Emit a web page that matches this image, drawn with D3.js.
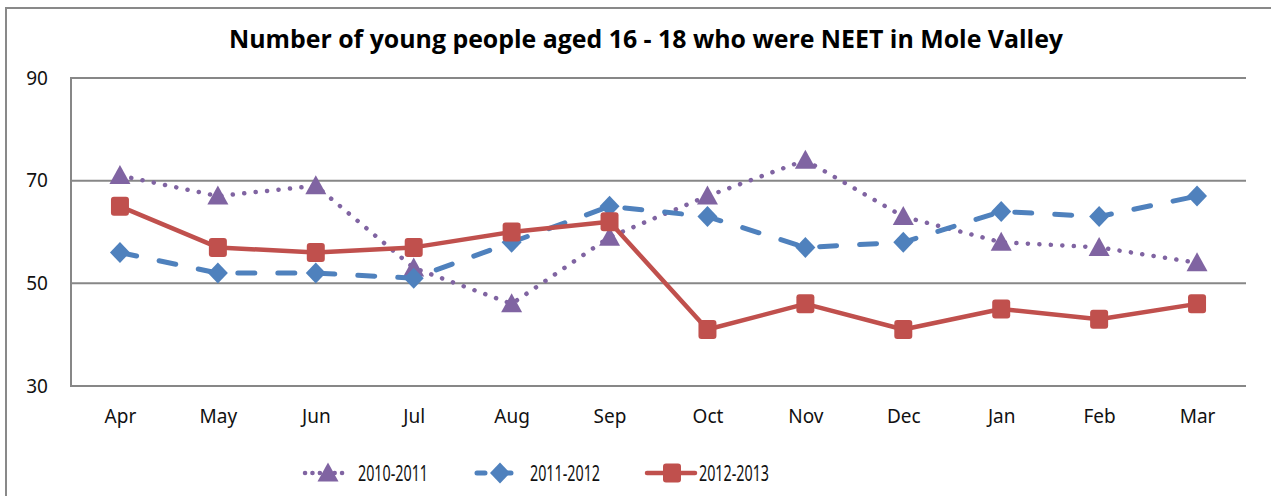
<!DOCTYPE html>
<html>
<head>
<meta charset="utf-8">
<script src="https://cdn.jsdelivr.net/npm/d3@7"></script>
<style>
  body { margin: 0; background: #fff; }
  svg { display: block; }
</style>
</head>
<body>
<div class="canvas"></div>
<script>
// data
const months = ['Apr', 'May', 'Jun', 'Jul', 'Aug', 'Sep', 'Oct', 'Nov', 'Dec', 'Jan', 'Feb', 'Mar'];
const y2010 = [71, 67, 69, 53, 46, 59, 67, 74, 63, 58, 57, 54];
const y2011 = [56, 52, 52, 51, 58, 65, 63, 57, 58, 64, 63, 67];
const y2012 = [65, 57, 56, 57, 60, 62, 41, 46, 41, 45, 43, 46];
const yTicks = [30, 50, 70, 90];
const title = 'Number of young people aged 16 - 18 who were NEET in Mole Valley';

const width = 1271, height = 496;
const plot = { left: 71, right: 1246, top: 78, bottom: 386 };

const series = [
  { name: '2010-2011', values: y2010, color: '#8064A2', marker: 'triangle', dash: '0.1 11.4', width: 4.5, legendX: 305 },
  { name: '2011-2012', values: y2011, color: '#4F81BD', marker: 'diamond', dash: '17 23', width: 5, legendX: 477 },
  { name: '2012-2013', values: y2012, color: '#C0504D', marker: 'square', dash: null, width: 4.5, legendX: 647 }
];

//Canvas
const svg = d3.select('.canvas')
  .append('svg')
  .attr('width', width)
  .attr('height', height);

// outer chart border
svg.append('rect')
  .attr('x', 6).attr('y', 8)
  .attr('width', width + 20).attr('height', height + 20)
  .attr('fill', '#fff')
  .attr('stroke', '#898989')
  .attr('stroke-width', 2);

// scales
const x = d3.scalePoint().domain(months).range([plot.left, plot.right]).padding(0.5);
const y = d3.scaleLinear().domain([30, 90]).range([plot.bottom, plot.top]);

// gridlines
svg.append('g')
  .selectAll('line')
  .data(yTicks)
  .join('line')
  .attr('x1', plot.left).attr('x2', plot.right)
  .attr('y1', (d) => y(d)).attr('y2', (d) => y(d))
  .attr('stroke', '#878787')
  .attr('stroke-width', 2);

// left axis line
svg.append('line')
  .attr('x1', plot.left).attr('x2', plot.left)
  .attr('y1', plot.top - 1).attr('y2', plot.bottom + 1)
  .attr('stroke', '#878787')
  .attr('stroke-width', 2);

// y axis labels
const yAxis = d3.axisLeft(y).tickValues(yTicks).tickSize(0).tickPadding(23);
svg.append('g')
  .attr('transform', `translate(${plot.left},0)`)
  .call(yAxis)
  .call((g) => g.select('.domain').remove())
  .selectAll('text')
  .attr('font-family', '"Noto Sans", sans-serif')
  .attr('font-size', 19)
  .attr('fill', '#111');

// x axis labels
const xAxis = d3.axisBottom(x).tickSize(0).tickPadding(24);
svg.append('g')
  .attr('transform', `translate(0,${plot.bottom})`)
  .call(xAxis)
  .call((g) => g.select('.domain').remove())
  .selectAll('text')
  .attr('font-family', '"Noto Sans", sans-serif')
  .attr('font-size', 19)
  .attr('fill', '#111');

// title
svg.append('text')
  .attr('x', 646)
  .attr('y', 48)
  .attr('text-anchor', 'middle')
  .attr('font-family', '"Open Sans", sans-serif')
  .attr('font-weight', 'bold')
  .attr('font-size', 25)
  .attr('textLength', 834)
  .attr('lengthAdjust', 'spacingAndGlyphs')
  .text(title);

// marker shapes
const markerPath = {
  triangle: 'M0,-10.5L10.5,8.5L-10.5,8.5Z',
  diamond: 'M0,-10.5L10,0L0,10.5L-10,0Z',
  square: 'M-9,-6.5Q-9,-9.5 -6,-9.5L6,-9.5Q9,-9.5 9,-6.5L9,6.5Q9,9.5 6,9.5L-6,9.5Q-9,9.5 -9,6.5Z'
};

const line = d3.line()
  .x((d, i) => x(months[i]))
  .y((d) => y(d));

// lines and markers
series.forEach((s) => {
  const g = svg.append('g');
  g.append('path')
    .attr('d', line(s.values))
    .attr('fill', 'none')
    .attr('stroke', s.color)
    .attr('stroke-width', s.width)
    .attr('stroke-linecap', 'round')
    .attr('stroke-linejoin', 'round')
    .attr('stroke-dasharray', s.dash);
  g.selectAll('path.mark')
    .data(s.values)
    .join('path')
    .attr('class', 'mark')
    .attr('d', markerPath[s.marker])
    .attr('transform', (d, i) => `translate(${x(months[i])},${y(d)})`)
    .attr('fill', s.color);
});

// legend
const legendY = 473;
const legend = svg.append('g');
series.forEach((s) => {
  const g = legend.append('g').attr('transform', `translate(${s.legendX},${legendY})`);
  g.append('line')
    .attr('x1', 0).attr('x2', s.marker === 'square' ? 48 : 42)
    .attr('y1', 0).attr('y2', 0)
    .attr('stroke', s.color)
    .attr('stroke-width', s.width)
    .attr('stroke-linecap', 'round')
    .attr('stroke-dasharray', s.dash ? (s.marker === 'triangle' ? '0.1 7.3' : '8 18') : null);
  g.append('path')
    .attr('d', markerPath[s.marker])
    .attr('transform', `translate(${s.marker === 'square' ? 25 : 23},0)`)
    .attr('fill', s.color);
  g.append('text')
    .attr('x', s.marker === 'square' ? 52 : 53)
    .attr('y', 7.5)
    .attr('font-family', '"Noto Sans", sans-serif')
    .attr('font-size', 21)
    .attr('textLength', 70)
    .attr('lengthAdjust', 'spacingAndGlyphs')
    .attr('fill', '#111')
    .text(s.name);
});
</script>
</body>
</html>
